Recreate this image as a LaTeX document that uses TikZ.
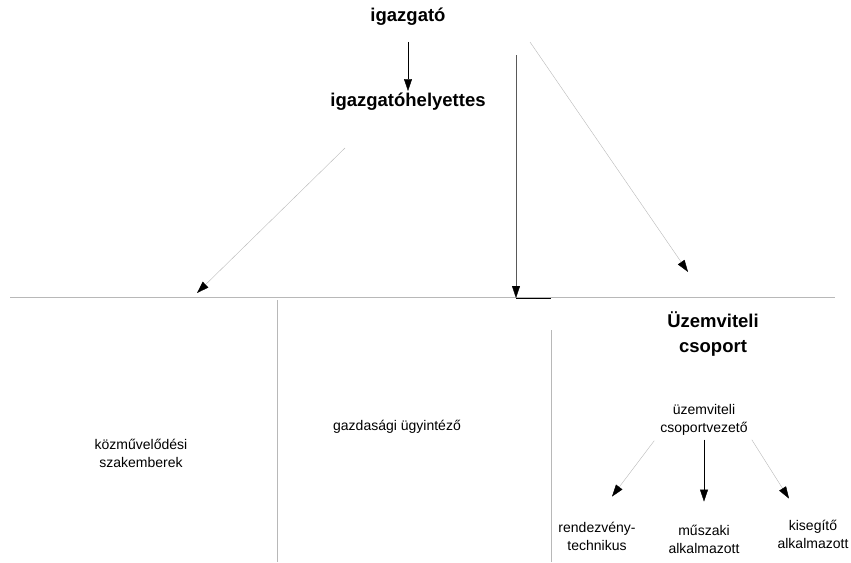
\documentclass[tikz,border=0pt]{standalone}
\usepackage{fontspec}
\setmainfont{Liberation Sans}
\usetikzlibrary{arrows.meta}
\usetikzlibrary{positioning}

\begin{document}
\begin{tikzpicture}[x=1pt,y=-1pt,>={Triangle[length=12pt,width=8pt,color=black]},
					thin,every node/.style={font=\fontsize{14}{18}\selectfont,align=center,inner sep=1pt}]
					\tikzstyle{head}=[font=\bfseries\fontsize{18.5}{25}\selectfont]
					\tikzstyle{faded}=[draw=black!28]
					\tikzstyle{half}=[draw=black!65]
					\useasboundingbox (0,0) rectangle (851,562);

					\node[head] (I)   at (408,17)  {igazgató};
					\node[head] (IH)  at (408,102) {igazgatóhelyettes};
					\node       (KSZ) at (141,453) {közművelődési\\szakemberek};
					\node       (GU)  at (397,427) {gazdasági ügyintéző};
					\node[head] (UCS) at (713,334) {Üzemviteli\\csoport};
					\node       (CV)  at (704,420) {üzemviteli\\csoportvezető};
					\node       (RT)  at (597,536) {rendezvény-\\technikus};
					\node       (MA)  at (704,539) {műszaki\\alkalmazott};
					\node       (KA)  at (813,534) {kisegítő\\alkalmazott};

					% vízszintes gerinc
					\coordinate (BL) at (10,297);
					\coordinate (BR) at (835,297);
					\coordinate (DL) at (345,148);
					\coordinate (DR) at (530,42);
					\coordinate (VT) at (516,55);
					\coordinate (T1) at (197,293);
					\coordinate (T2) at (688,272);
					\coordinate (T3) at (516,298);
					\coordinate (T4) at (551,298);
					\coordinate (S1) at (277,300);
					\coordinate (S2) at (277,562);
					\coordinate (S3) at (551,330);
					\coordinate (S4) at (551,562);

					\path[faded] (BL) edge (BR)
					(S1) edge (S2)
					(S3) edge (S4);
					\draw[->,shorten <=15pt,shorten >=1pt] (I) -- (IH);
					\draw[faded,->] (DL) -- (T1);
					\draw[faded,->] (DR) -- (T2);
					\draw[half,->] (VT) -- (T3);
					\draw (T3) -- (T4);

					\draw[faded,->] ([xshift=-5pt,yshift=-4pt]CV.south west) -- ([xshift=15pt,yshift=24pt]RT.north);
					\draw[->,shorten <=3pt,shorten >=22pt] (CV) -- (MA);
					\draw[faded,->] ([xshift=3pt,yshift=-3pt]CV.south east) -- ([xshift=-24pt,yshift=20pt]KA.north);
					\end{tikzpicture}
\end{document}
